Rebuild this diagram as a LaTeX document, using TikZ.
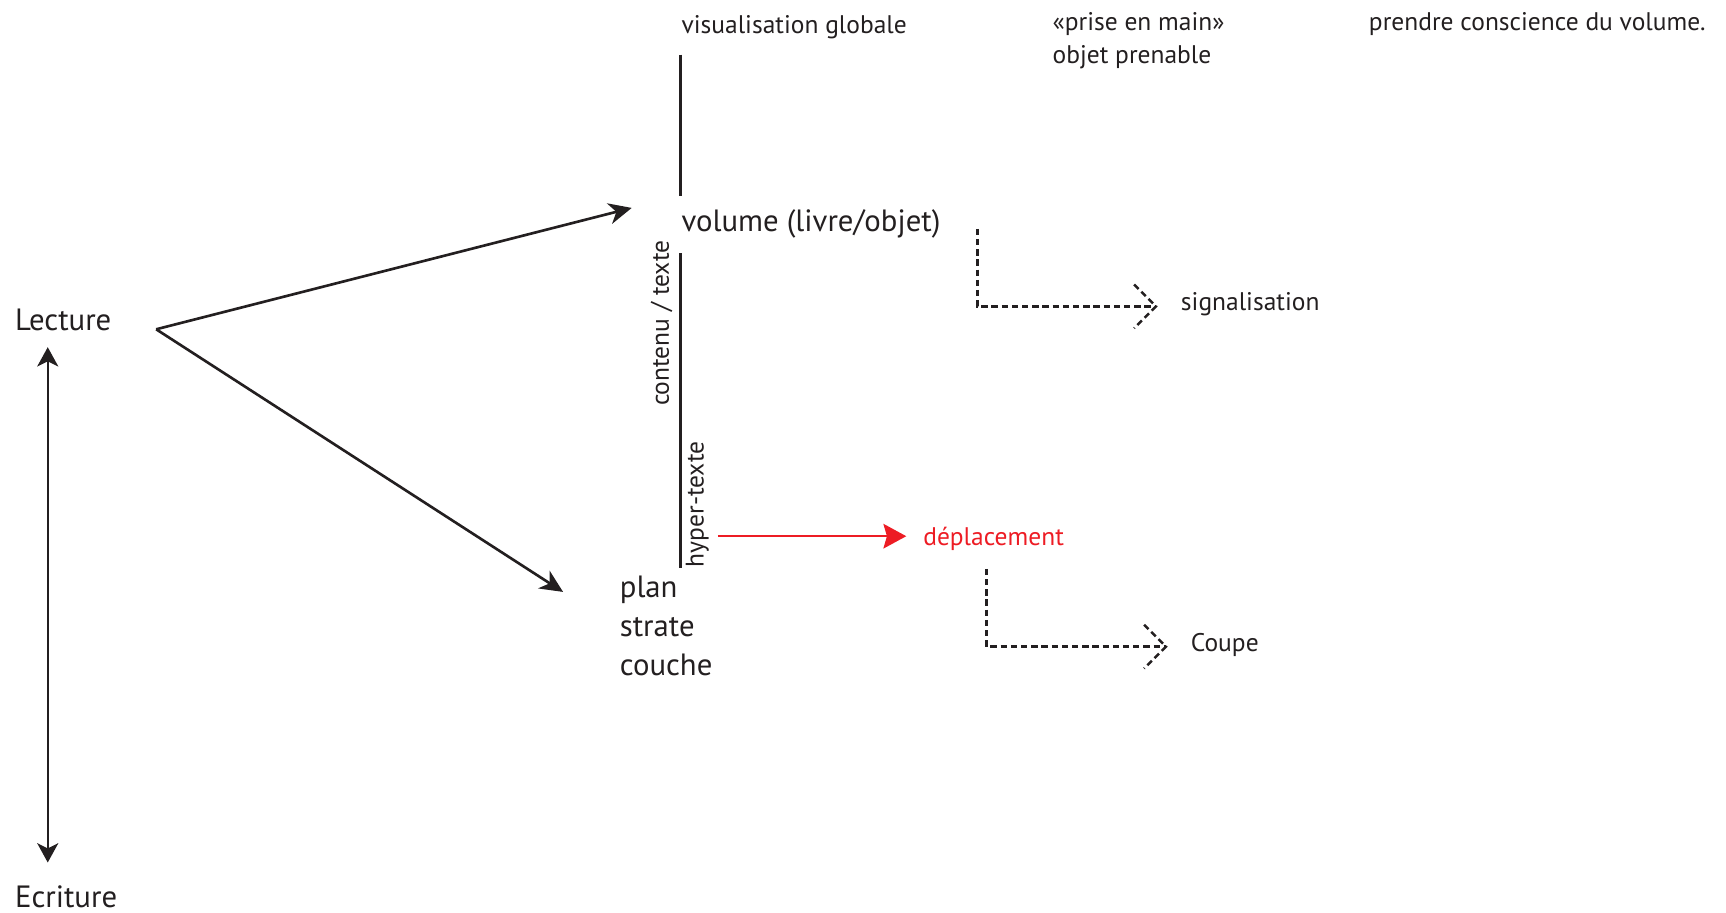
\documentclass[tikz,border=0pt]{standalone}
\usepackage{fontspec}
\setmainfont{PT Sans}
\usepackage{xcolor}
\usepackage{tikz}
\usetikzlibrary{arrows.meta, positioning}
\definecolor{deplred}{RGB}{237,28,36}
\definecolor{inkblack}{RGB}{35,31,32}
\def\pxunit{0.0199cm}
% open dashed chevron at the end of a dashed connector
\def\chevron#1{\draw[dash line] ([shift={(-22,-22)}]#1) -- (#1) -- ([shift={(-22,22)}]#1);}

\begin{document}
\begin{tikzpicture}[x=\pxunit, y=-\pxunit, line width=1.25pt, draw=inkblack]
    \tikzstyle{small}=[inner sep=0pt, anchor=west, text=inkblack, font=\fontsize{14.5}{19}\selectfont]
    \tikzstyle{big}=[small, font=\fontsize{17.5}{21}\selectfont]
    \tikzstyle{side}=[small, rotate=90, anchor=center]
    \tikzstyle{main arrow}=[-{Stealth[length=13pt, width=12pt, inset=4pt]}, line width=1.5pt]
    \tikzstyle{both arrow}=[{Stealth[length=11pt, width=12pt, inset=3pt]}-{Stealth[length=11pt, width=12pt, inset=3pt]}, line width=1.3pt]
    \tikzstyle{red arrow}=[-{Stealth[length=13pt, width=14pt, inset=2pt]}, draw=deplred, line width=1.3pt]
    \tikzstyle{dash line}=[line width=1.4pt, dash pattern=on 3.6pt off 2.2pt]

    \useasboundingbox (0,0) rectangle (1735,917);

    % Texts at the top
    \node[small] (vis) at (684,27) {visualisation globale};
    \node[small, align=left] (prise) at (1057,41) {«prise en main»\\objet prenable};
    \node[small] (consc) at (1375,24) {prendre conscience du volume.};

    % The two ends of the left axis
    \node[big] (lect) at (14,322) {Lecture};
    \node[big] (ecr) at (14,901) {Ecriture};

    % The middle column
    \node[big] (vol) at (684,225) {volume (livre/objet)};
    \node[side] (cont) at (665,325) {contenu / texte};
    \node[side] (hyp) at (701,507) {hyper-texte};
    \node[big] (plan) at (622,593) {plan};
    \node[big] (strate) at (622,630) {strate};
    \node[big] (couche) at (622,668) {couche};

    % The right column
    \node[small, text=deplred] (dep) at (927,542) {déplacement};
    \node[small] (sig) at (1186,306) {signalisation};
    \node[small] (coupe) at (1196,648) {Coupe};

    % Arrows from Lecture
    \coordinate (fork) at (157,331);
    \draw[main arrow] (fork) -- ([shift={(-49,-16)}]vol.west);
    \draw[main arrow] (fork) -- ([shift={(-56,2)}]plan.west);
    \draw[both arrow] ([shift={(34,27)}]lect.west) -- ([shift={(34,-34)}]ecr.west);

    % The vertical lines
    \draw ([shift={(0,15)}]vis.south west) -- ([shift={(0,-12)}]vol.north west);
    \draw ([shift={(0,14)}]vol.south west) -- (vol.west |- hyp.west);

    % From hyper-texte to deplacement
    \draw[red arrow] ([shift={(8,-3)}]hyp.south |- dep.west) -- ([shift={(-16,-3)}]dep.west);

    % The dashed elbows
    \coordinate (sig tip) at ([shift={(-24,2)}]sig.west);
    \coordinate (coupe tip) at ([shift={(-24,2)}]coupe.west);
    \draw[dash line] ([shift={(36,5)}]vol.east) |- (sig tip);
    \chevron{sig tip}
    \draw[dash line] ([shift={(-7,17)}]dep.south) |- (coupe tip);
    \chevron{coupe tip}

\end{tikzpicture}
\end{document}
